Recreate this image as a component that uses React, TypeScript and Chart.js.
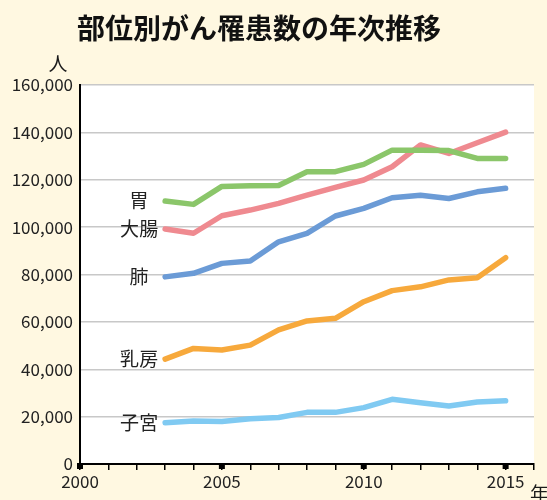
import React, { useEffect, useRef } from "react";
import { Chart, registerables } from "chart.js";

Chart.register(...registerables);

const years = [2003, 2004, 2005, 2006, 2007, 2008, 2009, 2010, 2011, 2012, 2013, 2014, 2015];
const stomach = [111000, 109600, 117200, 117500, 117600, 123400, 123400, 126500, 132500, 132500, 132300, 129000, 129000];
const colon = [99200, 97400, 104800, 107200, 110000, 113500, 116800, 119900, 125500, 134700, 131100, 135600, 140100];
const lung = [79000, 80500, 84700, 85700, 93800, 97400, 104700, 107900, 112400, 113500, 112100, 114900, 116400];
const breast = [44300, 48800, 48100, 50200, 56600, 60400, 61500, 68500, 73200, 74800, 77700, 78600, 87100];
const uterus = [17400, 18200, 17900, 19100, 19600, 21800, 21800, 23800, 27300, 25900, 24500, 26200, 26700];

const seriesNames = ["胃", "大腸", "肺", "乳房", "子宮"];
const seriesValues = [stomach, colon, lung, breast, uterus];
const seriesColors = ["#8bc66a", "#ef8a90", "#6b9bd6", "#f7a93c", "#80caf2"];

const yTicksMax = 160000;
const yStep = 20000;
const xMin = 2000;
const xMax = 2016;
const majorYears = [2000, 2005, 2010, 2015];

const titleText = "部位別がん罹患数の年次推移";
const yUnit = "人";
const xUnit = "年";

const FONT = '"Noto Sans CJK JP", "Noto Sans", sans-serif';

export default function App() {
  const ref = useRef<HTMLCanvasElement | null>(null);

  useEffect(() => {
    const canvas = ref.current;
    if (!canvas) return;

    const decor = {
      id: "decor",
      beforeDraw(chart: any) {
        const ctx = chart.ctx;
        const { chartArea } = chart;
        ctx.save();
        ctx.fillStyle = "#fff8e1";
        ctx.fillRect(0, 0, chart.width, chart.height);
        ctx.fillStyle = "#ffffff";
        ctx.fillRect(chartArea.left, chartArea.top, chartArea.right - chartArea.left, chartArea.bottom - chartArea.top);
        ctx.restore();
      },
      afterDraw(chart: any) {
        const ctx = chart.ctx;
        const xs = chart.scales.x;
        const ys = chart.scales.y;
        ctx.save();
        // title
        ctx.fillStyle = "#111";
        ctx.font = `bold 28px ${FONT}`;
        ctx.textAlign = "center";
        ctx.textBaseline = "middle";
        ctx.fillText(titleText, 259, 28);
        // unit labels
        ctx.fillStyle = "#1a1a1a";
        ctx.font = `19px ${FONT}`;
        ctx.fillText(yUnit, 58, 64);
        ctx.textAlign = "left";
        ctx.textBaseline = "top";
        ctx.fillText(xUnit, 530, 484);
        // major tick squares
        ctx.fillStyle = "#000";
        majorYears.forEach((yr) => {
          const px = xs.getPixelForValue(yr);
          ctx.fillRect(px - 3, ys.bottom - 1, 6, 6);
        });
        // series labels
        ctx.font = `19px ${FONT}`;
        ctx.fillStyle = "#222";
        ctx.textAlign = "center";
        ctx.textBaseline = "middle";
        seriesNames.forEach((name, i) => {
          const px = xs.getPixelForValue(years[0]);
          const py = ys.getPixelForValue(seriesValues[i][0]);
          ctx.fillText(name, px - 26, py);
        });
        ctx.restore();
      },
    };

    const chart = new Chart(canvas, {
      type: "line",
      data: {
        datasets: seriesNames.map((name, i) => ({
          label: name,
          data: years.map((yr, j) => ({ x: yr, y: seriesValues[i][j] })),
          borderColor: seriesColors[i],
          backgroundColor: seriesColors[i],
          borderWidth: 5.5,
          pointRadius: 0,
          tension: 0,
          borderCapStyle: "round",
          borderJoinStyle: "round",
          fill: false,
        })),
      },
      options: {
        animation: false,
        responsive: false,
        devicePixelRatio: 1,
        layout: { padding: { top: 85, right: 13, left: 0, bottom: 0 } },
        plugins: {
          legend: { display: false },
          tooltip: { enabled: false },
          title: { display: false },
        },
        scales: {
          x: {
            type: "linear",
            min: xMin,
            max: xMax,
            afterFit(scale: any) {
              scale.height = 36;
            },
            border: { color: "#000", width: 2 },
            grid: {
              drawOnChartArea: false,
              drawTicks: true,
              tickLength: 6,
              color: "#000",
              lineWidth: 1.5,
            },
            ticks: {
              stepSize: 1,
              autoSkip: false,
              maxRotation: 0,
              padding: 1,
              color: "#222",
              font: { family: FONT, size: 17 },
              callback: (v: any) => (majorYears.includes(Number(v)) ? String(v) : ""),
            },
          },
          y: {
            min: 0,
            max: yTicksMax,
            afterFit(scale: any) {
              scale.width = 80;
            },
            border: { color: "#000", width: 2 },
            grid: {
              color: "#c8c8c8",
              lineWidth: 1.5,
              drawTicks: false,
            },
            ticks: {
              stepSize: yStep,
              padding: 7,
              color: "#222",
              font: { family: FONT, size: 17 },
              callback: (v: any) => Number(v).toLocaleString("en-US"),
            },
          },
        },
      } as any,
      plugins: [decor],
    });

    return () => chart.destroy();
  }, []);

  return (
    <div style={{ position: "fixed", left: 0, top: 0, width: 547, height: 500, background: "#fff8e1" }}>
      <canvas ref={ref} width={547} height={500} style={{ display: "block", width: 547, height: 500 }} />
    </div>
  );
}
